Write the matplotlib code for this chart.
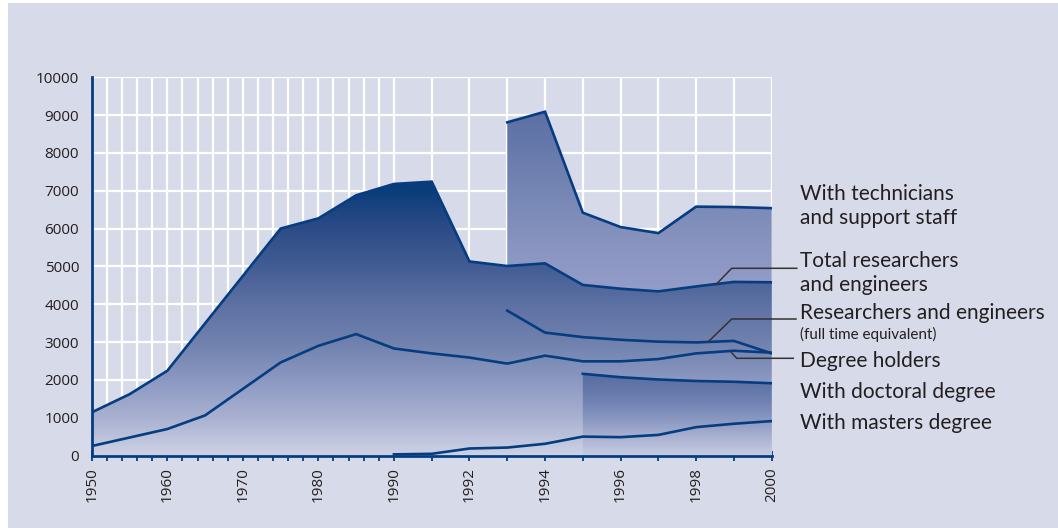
import numpy as np
import matplotlib
matplotlib.use('Agg')
import matplotlib.pyplot as plt
from matplotlib.colors import LinearSegmentedColormap
from matplotlib.patches import Rectangle

plt.rcParams['font.family'] = ['Open Sans', 'DejaVu Sans']

# ---- data ----
total_years = [1950, 1955, 1960, 1975, 1980, 1985, 1990, 1991, 1992, 1993,
               1994, 1995, 1996, 1997, 1998, 1999, 2000]
total = [1140, 1620, 2240, 6000, 6270, 6880, 7180, 7240, 5130, 5010,
         5080, 4510, 4410, 4340, 4470, 4590, 4580]

tech_years = [1993, 1994, 1995, 1996, 1997, 1998, 1999, 2000]
tech = [8810, 9090, 6420, 6040, 5880, 6580, 6570, 6540]

fte_years = [1993, 1994, 1995, 1996, 1997, 1998, 1999, 2000]
fte = [3830, 3250, 3130, 3060, 3010, 2990, 3030, 2700]

degree_years = [1950, 1960, 1965, 1975, 1980, 1985, 1990, 1991, 1992, 1993,
                1994, 1995, 1996, 1997, 1998, 1999, 2000]
degree = [250, 700, 1060, 2460, 2900, 3210, 2830, 2700, 2590, 2430,
          2640, 2490, 2490, 2550, 2700, 2770, 2720]

doc_years = [1995, 1996, 1997, 1998, 1999, 2000]
doc = [2160, 2070, 2010, 1970, 1950, 1910]

mast_years = [1990, 1991, 1992, 1993, 1994, 1995, 1996, 1997, 1998, 1999, 2000]
mast = [30, 45, 185, 210, 310, 500, 485, 545, 750, 840, 910]

tick_years = list(range(1950, 1990, 2)) + list(range(1990, 2001))
label_years = [1950, 1960, 1970, 1980, 1990, 1992, 1994, 1996, 1998, 2000]

labels = ["With technicians", "and support staff",
          "Total researchers", "and engineers",
          "Researchers and engineers", "(full time equivalent)",
          "Degree holders", "With doctoral degree", "With masters degree"]

NAVY = '#053d80'
BG = '#d7dae9'


# 1950-1990 squeezed: 2 years per step, 1990-2000: 1 year = 2.5 steps
def fwd(x):
    x = np.asarray(x, dtype=float)
    return np.where(x <= 1990, (x - 1950) / 2.0, 20 + (x - 1990) * 2.5)


def inv(u):
    u = np.asarray(u, dtype=float)
    return np.where(u <= 20, 1950 + 2.0 * u, 1990 + (u - 20) / 2.5)


fig = plt.figure(figsize=(10.58, 5.28), dpi=100, facecolor='white')
fig.add_artist(Rectangle((8 / 1058, 0), 1, 1 - 3 / 528, transform=fig.transFigure,
                         facecolor=BG, edgecolor='none', zorder=-1))
ax = fig.add_axes([0.0867, 0.1373, 0.6427, 0.7163])
ax.set_facecolor(BG)
ax.set_xscale('function', functions=(fwd, inv))

main_cmap = LinearSegmentedColormap.from_list('main', [
    (0.0, '#cdd2e5'), (0.1, '#a9b1d1'), (0.2, '#8b98c1'), (0.3, '#7081ae'),
    (0.4, '#5d71a3'), (0.5, '#425d94'), (0.6, '#2d4c87'), (0.7, '#0b3d7b'),
    (1.0, '#003a78')])
tech_cmap = LinearSegmentedColormap.from_list('tech', [
    (0.0, '#c8cce2'), (0.45, '#939cc9'), (0.56, '#8894bf'), (0.69, '#7787b5'),
    (0.82, '#6678ab'), (0.92, '#5b6fa4'), (1.0, '#5b6fa4')])
doc_cmap = LinearSegmentedColormap.from_list('doc', [
    (0.0, '#c7cce1'), (0.05, '#a9b1d1'), (0.10, '#8795c0'), (0.15, '#6d7fb0'),
    (0.21, '#5a6ea3'), (1.0, '#5a6ea3')])


def grad_fill(xs, ys, cmap, z):
    poly = ax.fill_between(xs, 0, ys, facecolor='none', edgecolor='none')
    grad = np.linspace(0, 1, 512).reshape(-1, 1)
    im = ax.imshow(grad, cmap=cmap, aspect='auto', origin='lower',
                   extent=(0, 1, 0, 1), transform=ax.transAxes,
                   interpolation='bilinear', zorder=z)
    im.set_clip_path(poly.get_paths()[0], poly.get_transform())


grad_fill(tech_years, tech, tech_cmap, 1)
grad_fill(total_years, total, main_cmap, 2)
grad_fill(doc_years, doc, doc_cmap, 3)

lw = 1.9
for xs, ys in [(total_years, total), (tech_years, tech), (fte_years, fte),
               (degree_years, degree), (doc_years, doc), (mast_years, mast)]:
    ax.plot(xs, ys, color=NAVY, linewidth=lw, zorder=5, solid_joinstyle='miter')

ax.set_xlim(1950, 2000)
ax.set_ylim(0, 10000)
ax.set_xticks(tick_years)
ax.set_xticklabels([str(y) if y in label_years else '' for y in tick_years],
                   rotation=90, fontsize=11, color='#231f20')
ax.set_yticks(range(0, 10001, 1000))
ax.set_yticklabels([str(v) for v in range(0, 10001, 1000)], fontsize=11, color='#231f20')
ax.tick_params(axis='x', direction='inout', length=7, width=1.3, color=NAVY, pad=5)
ax.tick_params(axis='y', length=0, pad=9)
ax.grid(True, color='white', linewidth=1.6)
ax.set_axisbelow(True)
for s in ['top', 'right']:
    ax.spines[s].set_visible(False)
for s in ['left', 'bottom']:
    ax.spines[s].set_color(NAVY)
    ax.spines[s].set_linewidth(2)
    ax.spines[s].set_zorder(6)


def fx(px):
    return px / 1058


def fy(py):
    return 1 - py / 528


# right-hand labels
tx = fx(800)
baselines = [200, 224, 267.3, 290.7, 319, 339, 366.7, 397.7, 429.3]
for txt, b in zip(labels, baselines):
    size = 11 if txt.startswith('(') else 15
    fig.text(tx, fy(b), txt, fontsize=size, color='#231f20', va='baseline', ha='left',
             family=['Lato', 'DejaVu Sans'])

# leader lines
leaders = [[(796.7, 268.3), (731.7, 268.3), (716, 284.5)],
           [(796, 319), (731.7, 319), (708.3, 341.7)],
           [(793.3, 358.3), (736.7, 358.3), (731.7, 352.7)]]
for pts in leaders:
    fig.add_artist(plt.Line2D([fx(p[0]) for p in pts], [fy(p[1]) for p in pts],
                              transform=fig.transFigure, color='#333333', linewidth=1.1,
                              zorder=10))

fig.savefig('out.png', dpi=100, facecolor=fig.get_facecolor())
